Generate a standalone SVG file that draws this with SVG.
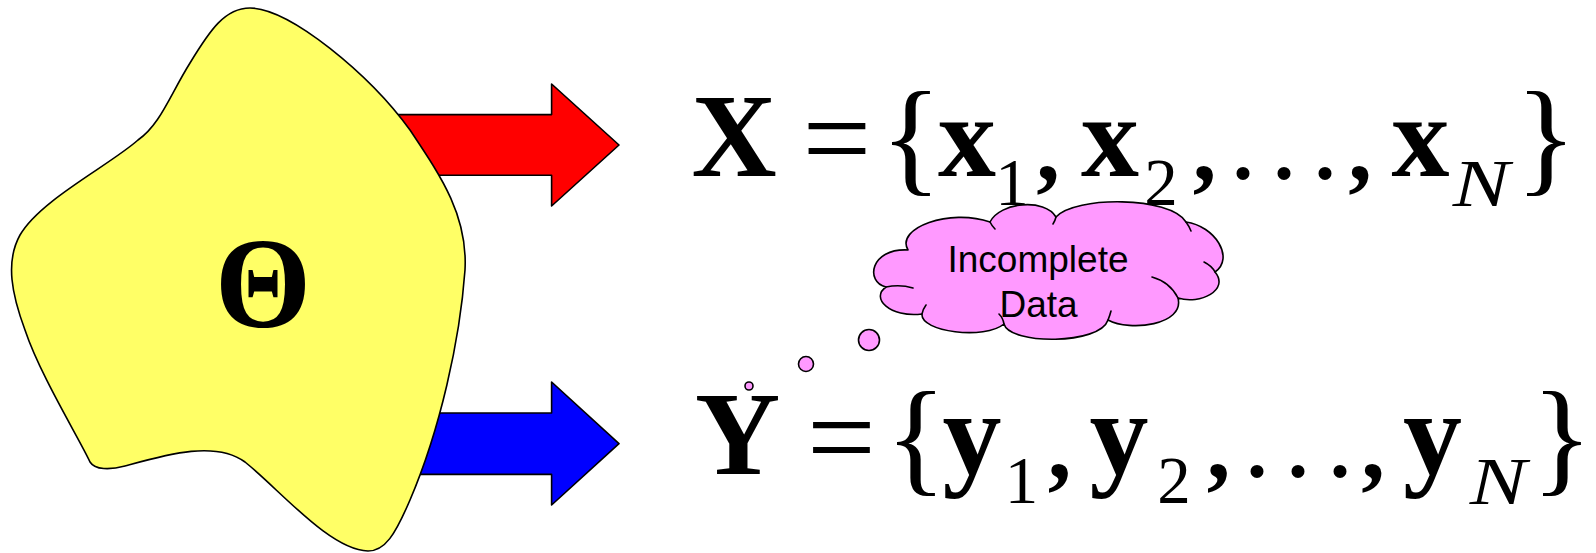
<svg xmlns="http://www.w3.org/2000/svg" width="1596" height="553" viewBox="0 0 1596 553">
<style>
.ol{stroke:#000;stroke-width:1.6;stroke-linejoin:round}
.cr{fill:none;stroke:#000;stroke-width:1.6;stroke-linecap:round}
.b{font-family:"Liberation Serif","Times New Roman",serif;font-weight:bold;fill:#000}
.r{font-family:"Liberation Serif","Times New Roman",serif;fill:#000}
.i{font-family:"Liberation Serif","Times New Roman",serif;font-style:italic;fill:#000}
.s{font-family:"Liberation Sans",Arial,sans-serif;fill:#000;font-size:37px}
.pink{fill:#FF99FF}
</style>
<g id="connectors">
<polygon id="arrow-x" class="ol" fill="#FF0000" points="385,114.6 551.6,114.6 551.6,84 619,145 551.6,206 551.6,175.3 385,175.3"/>
<polygon id="arrow-y" class="ol" fill="#0000FF" points="390,413 551.6,413 551.6,382 619,443.7 551.6,505 551.6,474.4 390,474.4"/>
</g>
<g id="theta-source">
<path class="ol" fill="#FFFF66" d="M250,8 C225,8 210,30 190,63 C170,95 160,125 138,140 C110,165 40,200 20,235 C5,262 12,295 25,330 C40,375 80,440 90,462 C95,470 110,470 125,466 C165,455 215,440 245,462 C280,490 330,550 368,551 C385,551 395,535 410,500 C440,430 460,340 465,270 C468,215 440,175 410,130 C370,75 290,8 250,8 Z"/>
<text class="b" font-size="130" text-anchor="middle" transform="translate(263,327) scale(0.95,1)">Θ</text>
</g>
<g id="eq-x">
<text class="b" font-size="118" text-anchor="middle" x="734" y="176">X</text>
<text class="r" font-size="122" text-anchor="middle" x="837" y="179">=</text>
<text class="r" font-size="127" text-anchor="middle" x="911" y="179">{</text>
<text class="b" font-size="116" text-anchor="middle" x="967" y="176">x</text>
<text class="r" font-size="67" text-anchor="middle" x="1012" y="205">1</text>
<text class="b" font-size="95" text-anchor="middle" x="1048" y="180">,</text>
<text class="b" font-size="116" text-anchor="middle" x="1110" y="176">x</text>
<text class="r" font-size="67" text-anchor="middle" x="1161" y="205">2</text>
<text class="b" font-size="95" text-anchor="middle" x="1204.5" y="180">,</text>
<text class="b" font-size="80" text-anchor="middle" y="179"><tspan x="1243">.</tspan><tspan x="1284">.</tspan><tspan x="1325">.</tspan></text>
<text class="b" font-size="95" text-anchor="middle" x="1360" y="180">,</text>
<text class="b" font-size="116" text-anchor="middle" x="1420.5" y="176">x</text>
<text class="i" font-size="68" text-anchor="middle" transform="translate(1481,206) scale(1.25,1)">N</text>
<text class="r" font-size="127" text-anchor="middle" x="1546" y="179">}</text>
</g>
<g id="eq-y">
<text class="b" font-size="118" text-anchor="middle" x="737.5" y="474">Y</text>
<text class="r" font-size="122" text-anchor="middle" x="841.5" y="478">=</text>
<text class="r" font-size="127" text-anchor="middle" x="916" y="479">{</text>
<text class="b" font-size="118" text-anchor="middle" x="972" y="474">y</text>
<text class="r" font-size="67" text-anchor="middle" x="1021.5" y="503">1</text>
<text class="b" font-size="95" text-anchor="middle" x="1059.5" y="478">,</text>
<text class="b" font-size="118" text-anchor="middle" x="1119" y="474">y</text>
<text class="r" font-size="67" text-anchor="middle" x="1174" y="503">2</text>
<text class="b" font-size="95" text-anchor="middle" x="1218.5" y="478">,</text>
<text class="b" font-size="80" text-anchor="middle" y="477"><tspan x="1257">.</tspan><tspan x="1298">.</tspan><tspan x="1340">.</tspan></text>
<text class="b" font-size="95" text-anchor="middle" x="1373" y="478">,</text>
<text class="b" font-size="118" text-anchor="middle" x="1432.5" y="474">y</text>
<text class="i" font-size="68" text-anchor="middle" transform="translate(1498,504) scale(1.25,1)">N</text>
<text class="r" font-size="127" text-anchor="middle" x="1562" y="479">}</text>
</g>
<g id="incomplete-data">
<path class="ol pink" d="M908,250 C895,228 950,208 990,222 C1000,202 1045,198 1056,217 C1075,196 1170,196 1186,222 C1215,226 1235,258 1215,272 C1230,290 1200,305 1178,298 C1185,325 1130,332 1108,320 C1100,345 1010,345 1004,324 C985,340 920,332 922,314 C890,318 870,298 886,287 C865,282 870,248 908,250 Z"/>
<path class="cr" d="M886,287 Q900,284 913,288 M1004,324 Q1003,318 999,314 M1108,320 Q1110,315 1111,311 M1178,298 Q1170,282 1152,277 M1215,272 Q1212,266 1204,262 M990,222 Q992,226 995,229 M1056,217 Q1055,221 1053,224 M1186,222 Q1189,226 1191,231 M922,314 Q923,309 926,305"/>
<text class="s" text-anchor="middle" x="1038" y="272">Incomplete</text>
<text class="s" text-anchor="middle" x="1038.5" y="317">Data</text>
<circle class="ol pink" cx="869" cy="340" r="10.5"/>
<circle class="ol pink" cx="806" cy="364" r="7.5"/>
<circle class="ol pink" cx="749" cy="386" r="4"/>
</g>
</svg>
